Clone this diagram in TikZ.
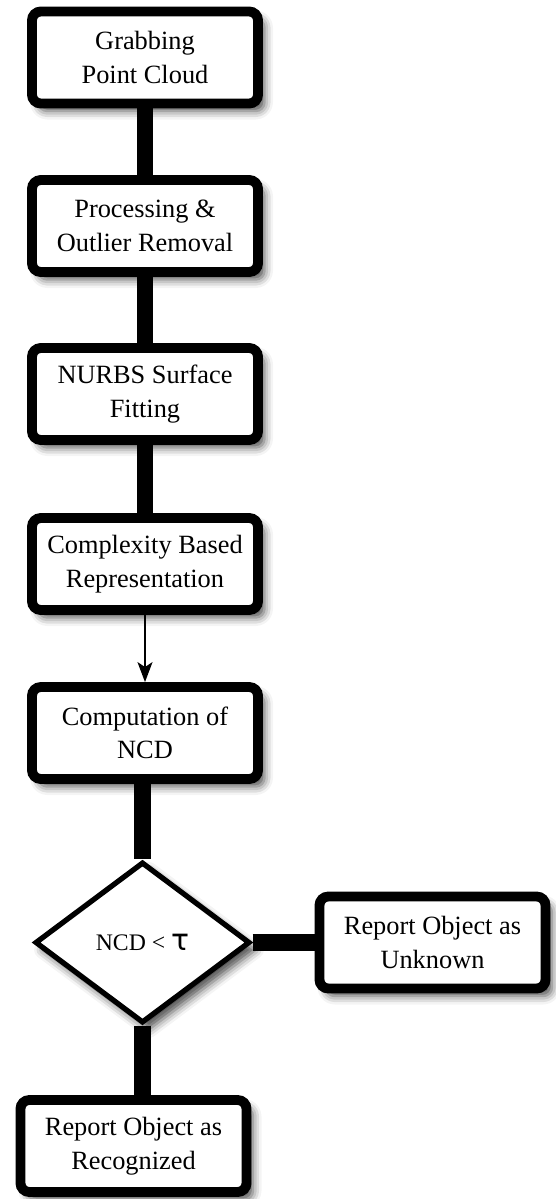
\documentclass[tikz,border=0pt]{standalone}
\usepackage{fontspec}
\setmainfont{Liberation Serif}
\newfontfamily\boxfont{Liberation Serif}
\newfontfamily\taufont{DejaVu Sans}
\usetikzlibrary{shapes.geometric,shadows.blur,arrows.meta}
\begin{document}
\begin{tikzpicture}[
  stepbox/.style={draw, line width=5.6pt, rounded corners=5pt, fill=white,
    minimum width=4.52cm, minimum height=1.84cm, align=center,
    font=\boxfont\fontsize{15}{19}\selectfont,
    blur shadow={shadow xshift=0.13cm, shadow yshift=-0.15cm,
      shadow blur radius=0.17cm, shadow opacity=70}},
  decision/.style={draw, diamond, line width=3pt, fill=white, inner sep=0pt,
    minimum width=4.3cm, minimum height=3.22cm,
    font=\boxfont\fontsize{13.5}{16}\selectfont,
    blur shadow={shadow xshift=0.13cm, shadow yshift=-0.15cm,
      shadow blur radius=0.17cm, shadow opacity=70}},
  link/.style={draw, line width=9.5pt}
]
\useasboundingbox (0,0) rectangle (11.12,-23.98);
\node[stepbox] (1) at (2.9,-1.15) {Grabbing\\Point Cloud};
\node[stepbox] (2) at (2.9,-4.52) {Processing \&\\Outlier Removal};
\node[stepbox] (3) at (2.9,-7.88) {NURBS Surface\\Fitting};
\node[stepbox] (4) at (2.9,-11.28) {Complexity Based\\Representation};
\node[stepbox] (5) at (2.9,-14.66) {Computation of\\NCD};
\node[decision] (6) at (2.85,-18.85) {NCD < {\fontsize{17}{17}\taufont τ}};
\node[stepbox] (7) at (8.65,-18.85) {Report Object as\\Unknown};
\node[stepbox] (8) at (2.67,-22.92) {Report Object as\\Recognized};

\path[link] (1) -- (2);
\path[link] (2) -- (3);
\path[link] (3) -- (4);
\path[draw,line width=1pt,-{Stealth[length=4mm,width=3mm,inset=1mm]}] (4) -- (5);
\path[link] (5.south -| 6.north) -- (6.north);
\path[link] (6) -- (7);
\path[link] (6.south) -- (6.south |- 8.north);
\end{tikzpicture}
\end{document}
